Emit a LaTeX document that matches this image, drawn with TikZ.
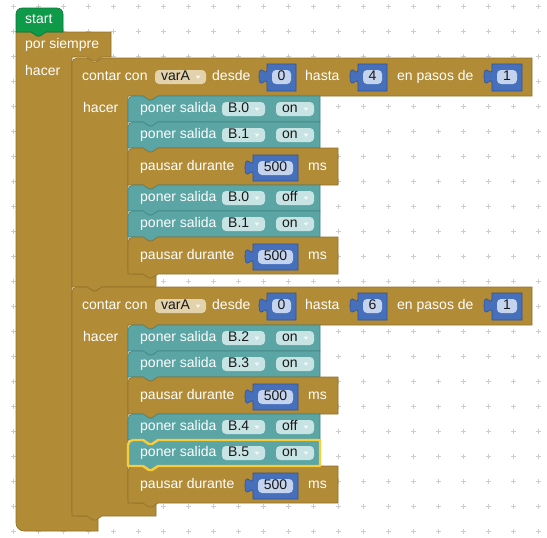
\documentclass[tikz,border=0pt]{standalone}
\usepackage{fontspec}
\setmainfont{Liberation Sans}

\definecolor{ctrl}{RGB}{177,139,54}
\definecolor{ctrlE}{RGB}{146,113,40}
\definecolor{ctrlF}{RGB}{226,211,172}
\definecolor{io}{RGB}{91,165,165}
\definecolor{ioE}{RGB}{66,134,134}
\definecolor{ioF}{RGB}{200,227,227}
\definecolor{num}{RGB}{70,112,188}
\definecolor{numE}{RGB}{48,82,150}
\definecolor{numF}{RGB}{196,212,238}
\definecolor{hatc}{RGB}{14,154,72}
\definecolor{hatE}{RGB}{8,120,54}
\definecolor{selc}{RGB}{250,204,58}
\definecolor{gridc}{RGB}{205,205,205}

\tikzset{
  lbl/.style={anchor=west, inner sep=0pt, text=white,
    font=\fontsize{14}{16}\selectfont, text height=10pt, text depth=3pt},
  fieldtext/.style={anchor=west, inner sep=0pt, text=black!90,
    font=\fontsize{14}{16}\selectfont, text height=10pt, text depth=3pt},
  ddarrow/.style={fill=white, fill opacity=0.75},
  ctrlblk/.style={fill=ctrl, draw=ctrlE, line width=0.6pt},
  ioblk/.style={fill=io, draw=ioE, line width=0.6pt},
  numblk/.style={fill=num, draw=numE, line width=0.6pt},
  hatblk/.style={fill=hatc, draw=hatE, line width=0.6pt},
  selected/.style={draw=selc, line width=2.4pt, line join=round},
  gridmark/.style={draw=gridc, line width=0.8pt},
}

% statement block: left, top, width, height, style (top notch, bottom tab)
\newcommand\stmt[5]{%
  \filldraw[#5] (#1,#2+#4) -- (#1,#2+5) arc[start angle=180,end angle=270,radius=5]
    -- (#1+15,#2) -- (#1+21,#2+4) -- (#1+24,#2+4) -- (#1+30,#2) -- (#1+#3,#2)
    -- (#1+#3,#2+#4) -- (#1+30,#2+#4) -- (#1+24,#2+#4+4) -- (#1+21,#2+#4+4)
    -- (#1+15,#2+#4) -- cycle;}

% dropdown field: name, left, right, top, colour, text
\newcommand\ddfield[6]{%
  \fill[#5, rounded corners=4] (#2,#4) rectangle (#3,#4+14);
  \node[fieldtext] (#1) at (#2+6,#4+7) {#6};
  \fill[ddarrow] (#3-10.5,#4+5.5) -- (#3-5.5,#4+5.5) -- (#3-8,#4+9) -- cycle;}

% number block with output tab: name, body left, body right, top, height, value
\newcommand\numblock[6]{%
  \filldraw[numblk] (#2,#4) -- (#3,#4) -- (#3,#4+#5) -- (#2,#4+#5) -- (#2,#4+20)
    .. controls (#2,#4+10) and (#2-8,#4+28) .. (#2-8,#4+12.5)
    .. controls (#2-8,#4-3) and (#2,#4+15) .. (#2,#4+5) -- cycle;
  \fill[numF, rounded corners=4] (#2+5,#4+6) rectangle (#3-5,#4+20);
  \node[fieldtext, anchor=center] (#1) at ({(#2+#3)/2},#4+13) {#6};}

% "poner salida" block: name, top, pin, state, extra style
\newcommand\setout[5]{%
  \stmt{128}{#2}{192}{26}{ioblk,#5}
  \node[lbl] (#1) at (140,#2+13) {poner salida};
  \ddfield{#1pin}{222}{265}{#2+6}{ioF}{#3}
  \ddfield{#1st}{276}{314}{#2+6}{ioF}{#4}}

% "pausar durante" block: name, top
\newcommand\waitblk[2]{%
  \stmt{128}{#2}{210}{37}{ctrlblk}
  \node[lbl] (#1) at (140,#2+18.5) {pausar durante};
  \numblock{#1v}{253}{298}{#2+7}{26}{500}
  \node[lbl] (#1ms) at (308,#2+18.5) {ms};}

% counting loop: name, top, inner bottom, upper limit
\newcommand\countloop[4]{%
  \filldraw[ctrlblk] (72,#3+13) -- (72,#2+5) arc[start angle=180,end angle=270,radius=5]
    -- (87,#2) -- (93,#2+4) -- (96,#2+4) -- (102,#2) -- (532,#2) -- (532,#2+38)
    -- (158,#2+38) -- (152,#2+42) -- (149,#2+42) -- (143,#2+38) -- (128,#2+38)
    -- (128,#3-5) arc[start angle=180,end angle=90,radius=5]
    -- (156,#3) -- (156,#3+13) -- (102,#3+13) -- (96,#3+17) -- (93,#3+17)
    -- (87,#3+13) -- cycle;
  \node[lbl] (#1a) at (82,#2+19) {contar con};
  \ddfield{#1var}{155}{206}{#2+12}{ctrlF}{varA}
  \node[lbl] (#1b) at (212,#2+19) {desde};
  \numblock{#1from}{267}{296}{#2+6}{27}{0}
  \node[lbl] (#1c) at (305,#2+19) {hasta};
  \numblock{#1to}{358}{387}{#2+6}{27}{#4}
  \node[lbl] (#1d) at (397,#2+19) {en pasos de};
  \numblock{#1by}{492}{522}{#2+6}{27}{1}
  \node[lbl] (#1e) at (83,#2+50.5) {hacer};}

\begin{document}
\begin{tikzpicture}[x=1pt,y=-1pt]
\useasboundingbox (0,0) rectangle (547,538);
\fill[white] (0,0) rectangle (547,538);

% workspace grid
\foreach \i in {0,...,21}
  \foreach \j in {0,...,21}
    \draw[gridmark] (13.5+25*\i-2.5,6+25*\j) -- ++(5,0) (13.5+25*\i,6+25*\j-2.5) -- ++(0,5);

% "por siempre" frame
\filldraw[ctrlblk] (16,32) -- (31,32) -- (37,36) -- (40,36) -- (46,32) -- (111,32)
  -- (111,57) -- (102,57) -- (96,61) -- (93,61) -- (87,57) -- (72,57)
  -- (72,511) arc[start angle=180,end angle=90,radius=5]
  -- (98,516) -- (98,531) -- (24,531) arc[start angle=90,end angle=180,radius=8]
  -- cycle;
\node[lbl] (forever) at (25,45) {por siempre};
\node[lbl] (foreverdo) at (25,72) {hacer};

% start hat
\filldraw[hatblk] (16,32) -- (16,14) arc[start angle=180,end angle=270,radius=6]
  -- (57,8) arc[start angle=270,end angle=360,radius=6] -- (63,32)
  -- (46,32) -- (40,36) -- (37,36) -- (31,32) -- cycle;
\node[lbl] (start) at (25,20) {start};

% first loop
\countloop{loopA}{58}{274}{4}
\setout{sA1}{96}{B.0}{on}{}
\setout{sA2}{122}{B.1}{on}{}
\waitblk{wA1}{148}
\setout{sA3}{185}{B.0}{off}{}
\setout{sA4}{211}{B.1}{on}{}
\waitblk{wA2}{237}

% second loop
\countloop{loopB}{287}{503}{6}
\setout{sB1}{325}{B.2}{on}{}
\setout{sB2}{351}{B.3}{on}{}
\waitblk{wB1}{377}
\setout{sB3}{414}{B.4}{off}{}
\setout{sB4}{440}{B.5}{on}{}
\waitblk{wB2}{466}

% selected block outline
\draw[selected] (128,466) -- (128,445) arc[start angle=180,end angle=270,radius=5]
    -- (143,440) -- (149,444) -- (152,444) -- (158,440) -- (320,440)
    -- (320,466) -- (158,466) -- (152,470) -- (149,470) -- (143,466) -- cycle;
\end{tikzpicture}
\end{document}
